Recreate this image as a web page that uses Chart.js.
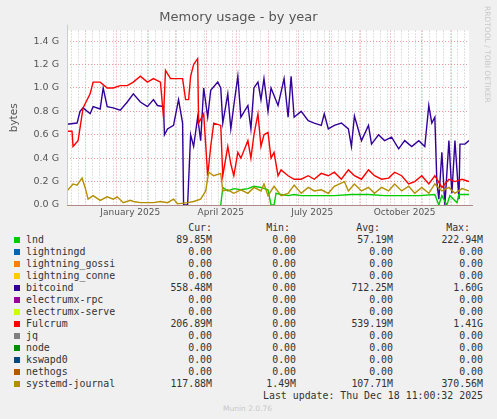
<!DOCTYPE html>
<html><head><meta charset="utf-8">
<script src="https://cdn.jsdelivr.net/npm/chart.js@4"></script>
<style>
body{margin:0;background:#f0f0f0;width:497px;height:419px;overflow:hidden;position:relative;font-family:"DejaVu Sans Mono",monospace;}
#wrap{position:absolute;left:0;top:0;width:497px;height:222px;}
.t{position:absolute;font-size:9.9px;color:#333;white-space:pre;line-height:12px;}
.r{text-align:right;}
.sw{position:absolute;width:6px;height:6px;}
#side{position:absolute;left:483px;top:6px;writing-mode:vertical-rl;font-family:"DejaVu Sans",sans-serif;font-size:7.5px;color:#c8c8c8;}
</style></head><body>
<div id="wrap"><canvas id="c"></canvas></div>
<div id="side">RRDTOOL / TOBI OETIKER</div>
<div id="legend"></div>
<script>
// x positions in days from start of the 400-day window; values in G bytes
const bitcoindX=[0,10,13,16,23,26,33,36,40,46,53,60,66,73,80,86,90,96,97,100,106,111,115,116,120,123,126,130,133,136,140,143,150,153,155,160,163,166,170,173,180,183,186,190,193,196,200,203,210,216,220,223,226,233,240,246,253,256,260,266,273,280,283,286,293,300,303,310,316,323,330,336,343,350,356,360,363,366,368,370,373,376,380,383,386,390,391,396,400];
const bitcoindY=[0.69,0.70,0.80,0.83,0.78,0.84,0.82,1.0,0.84,0.83,0.81,0.88,0.95,0.88,0.84,0.90,0.85,0.84,0.60,0.65,0.68,0.90,0.70,0.0,0.0,0.60,0.50,0.75,0.55,1.0,0.75,0.98,1.05,1.0,0.70,0.95,0.65,0.85,1.1,0.75,0.85,0.65,1.0,1.05,0.90,1.08,0.80,1.0,0.85,1.08,0.75,1.1,0.75,0.80,0.72,0.70,0.68,0.78,0.65,0.68,0.70,0.65,0.50,0.76,0.55,0.68,0.52,0.60,0.55,0.58,0.48,0.55,0.50,0.55,0.50,0.85,0.70,0.75,0.20,0.05,0.45,0.0,0.55,0.10,0.55,0.05,0.52,0.52,0.55];
const fulcrumX=[0,5,6,11,16,23,26,33,40,46,53,60,66,73,80,86,93,96,98,103,110,115,118,121,123,126,130,131,136,140,143,146,153,155,160,163,166,170,173,180,183,186,190,193,196,200,203,206,210,213,220,226,233,240,246,253,260,266,273,280,286,293,300,306,313,320,326,333,340,346,353,360,366,373,380,386,393,400];
const fulcrumY=[0.63,0.63,0.50,0.55,0.83,0.95,1.05,1.05,1.0,1.0,1.02,1.02,1.05,1.1,1.05,1.08,1.05,0.75,1.15,1.08,1.08,1.08,0.90,0.90,1.1,1.2,1.25,0.70,0.78,0.25,0.50,0.70,0.68,0.25,0.50,0.35,0.25,0.45,0.40,0.55,0.40,0.60,0.78,0.50,0.60,0.62,0.40,0.45,0.25,0.30,0.25,0.22,0.22,0.25,0.22,0.27,0.25,0.28,0.22,0.30,0.25,0.22,0.30,0.25,0.22,0.23,0.28,0.25,0.18,0.20,0.25,0.18,0.25,0.15,0.22,0.20,0.22,0.20];
const journalX=[0,6,10,15,18,21,26,33,40,46,50,56,63,66,73,80,86,93,100,106,110,120,126,133,138,141,146,153,155,160,166,173,180,186,193,196,200,206,213,220,226,233,240,246,253,260,266,276,280,286,293,300,306,313,320,326,333,340,346,353,360,366,373,380,386,393,400];
const journalY=[0.12,0.18,0.17,0.23,0.15,0.05,0.08,0.04,0.07,0.05,0.07,0.02,0.04,0.03,0.02,0.02,0.02,0.03,0.02,0.05,0.01,0.02,0.03,0.05,0.12,0.28,0.25,0.27,0.12,0.13,0.10,0.13,0.10,0.15,0.12,0.18,0.08,0.16,0.08,0.10,0.17,0.10,0.15,0.12,0.13,0.10,0.16,0.20,0.12,0.18,0.12,0.15,0.10,0.15,0.12,0.18,0.12,0.16,0.10,0.15,0.10,0.18,0.12,0.15,0.10,0.14,0.12];
const lndX=[153,155,160,166,173,180,186,193,200,203,206,208,213,220,226,233,250,266,283,300,316,333,350,366,370,373,378,381,388,390,400];
const lndY=[0.0,0.15,0.12,0.14,0.13,0.14,0.16,0.15,0.13,0.0,0.0,0.10,0.09,0.08,0.09,0.08,0.08,0.08,0.09,0.09,0.08,0.08,0.08,0.09,0.0,0.08,0.0,0.08,0.02,0.09,0.09];
const monthDays=[18,49,80,108,139,169,200,230,261,292,322,353,383];
const labelDays=[63,153,244,336];
const labelTexts=["January 2025","April 2025","July 2025","October 2025"];
const yTicks=[0,0.1,0.2,0.3,0.4,0.5,0.6,0.7,0.8,0.9,1.0,1.1,1.2,1.3,1.4];

const legendNames=["lnd","lightningd","lightning_gossi","lightning_conne","bitcoind","electrumx-rpc","electrumx-serve","Fulcrum","jq","node","kswapd0","nethogs","systemd-journal"];
const legendColors=["#00cc00","#0066b3","#ff8000","#ffcc00","#330099","#990099","#ccff00","#ff0000","#808080","#008f00","#00487d","#b35a00","#b38f00"];
const legendCur=["89.85M","0.00","0.00","0.00","558.48M","0.00","0.00","206.89M","0.00","0.00","0.00","0.00","117.88M"];
const legendMin=["0.00","0.00","0.00","0.00","0.00","0.00","0.00","0.00","0.00","0.00","0.00","0.00","1.49M"];
const legendAvg=["57.19M","0.00","0.00","0.00","712.25M","0.00","0.00","539.19M","0.00","0.00","0.00","0.00","107.71M"];
const legendMax=["222.94M","0.00","0.00","0.00","1.60G","0.00","0.00","1.41G","0.00","0.00","0.00","0.00","370.56M"];

function pts(xs,ys){return xs.map((x,i)=>({x:x,y:ys[i]}));}
const ds=(label,xs,ys,color)=>({label,data:pts(xs,ys),borderColor:color,borderWidth:1.4,pointRadius:0,tension:0,fill:false});

const tickInfo={};
const xTicks=[];
monthDays.forEach(d=>{tickInfo[d]='m';xTicks.push(d);});
for(let d=4;d<=400;d+=7){if(!(d in tickInfo)){tickInfo[d]='w';xTicks.push(d);}}
labelDays.forEach((d,i)=>{const k=d+0.001;tickInfo[k]='l'+i;xTicks.push(k);});
xTicks.sort((a,b)=>a-b);

new Chart(document.getElementById('c'),{
 type:'line',
 data:{datasets:[
  ds('systemd-journal',journalX,journalY,'#b38f00'),
  ds('lnd',lndX,lndY,'#00cc00'),
  ds('Fulcrum',fulcrumX,fulcrumY,'#ff0000'),
  ds('bitcoind',bitcoindX,bitcoindY,'#330099'),
 ]},
 options:{
  responsive:true,maintainAspectRatio:false,animation:false,
  layout:{padding:{top:1,right:28,bottom:0,left:8}},
  plugins:{legend:{display:false},tooltip:{enabled:false},
   title:{display:true,text:'Memory usage - by year',color:'#555',font:{family:'DejaVu Sans',size:13,weight:'normal'},padding:{top:9,bottom:5}}},
  scales:{
   x:{type:'linear',min:0,max:400,
     afterBuildTicks:s=>{s.ticks=xTicks.map(v=>({value:v}));},
     afterFit:s=>{s.height=17;},
     ticks:{autoSkip:false,maxRotation:0,color:'#555',font:{family:'DejaVu Sans',size:9},padding:2,
       callback:(v)=>{const t=tickInfo[v];return (t&&t[0]==='l')?labelTexts[+t.slice(1)]:'';}},
     grid:{drawTicks:false,tickLength:0,
       color:c=>{const t=c.tick&&tickInfo[c.tick.value];return t==='m'?'rgba(230,110,110,0.7)':t==='w'?'rgba(170,170,170,0.7)':'rgba(0,0,0,0)';},
       lineWidth:1},
     border:{display:false,dash:[1,2]}
   },
   y:{min:0,max:1.49,
     afterBuildTicks:s=>{s.ticks=yTicks.map(v=>({value:v}));},
     afterFit:s=>{s.width=59;},
     title:{display:true,text:'bytes',color:'#555',font:{family:'DejaVu Sans',size:10.5},padding:{top:0,bottom:4}},
     ticks:{color:'#555',font:{family:'DejaVu Sans',size:9.5},padding:8,
       callback:v=>{const k=Math.round(v*10);return k%2===0?(v.toFixed(1)+' G'):'';}},
     grid:{drawTicks:false,
       color:c=>{const k=Math.round(c.tick.value*10);return k===0?'rgba(0,0,0,0)':(k%2===0?'rgba(230,110,110,0.7)':'rgba(170,170,170,0.7)');},
       lineWidth:1},
     border:{display:false,dash:[1,2]}
   }
  }
 },
 plugins:[{id:'bg',beforeDraw:(ch)=>{const a=ch.chartArea,x=ch.ctx;x.save();x.fillStyle='#ffffff';x.fillRect(a.left,a.top,a.right-a.left,a.bottom-a.top);x.restore();},
  afterDraw:(ch)=>{const a=ch.chartArea,x=ch.ctx;x.save();x.strokeStyle='#c8c8f0';x.lineWidth=1;x.beginPath();x.moveTo(a.left+0.5,a.bottom);x.lineTo(a.left+0.5,a.top-6);x.stroke();
   x.strokeStyle='#b08a8a';x.beginPath();x.moveTo(a.left,a.bottom+0.5);x.lineTo(a.right+4,a.bottom+0.5);x.stroke();x.restore();}}]
});

const L=document.getElementById('legend');
let h='';
h+='<div class="t r" style="left:150px;top:222px;width:62px">Cur:</div>';
h+='<div class="t r" style="left:230px;top:222px;width:60px">Min:</div>';
h+='<div class="t r" style="left:320px;top:222px;width:60px">Avg:</div>';
h+='<div class="t r" style="left:410px;top:222px;width:60px">Max:</div>';
legendNames.forEach((n,i)=>{
 const y=234+i*12;
 h+=`<div class="sw" style="left:14px;top:${y+3}px;background:${legendColors[i]}"></div>`;
 h+=`<div class="t" style="left:26px;top:${y}px">${n}</div>`;
 h+=`<div class="t r" style="left:140px;top:${y}px;width:72px">${legendCur[i]}</div>`;
 h+=`<div class="t r" style="left:220px;top:${y}px;width:76px">${legendMin[i]}</div>`;
 h+=`<div class="t r" style="left:310px;top:${y}px;width:83px">${legendAvg[i]}</div>`;
 h+=`<div class="t r" style="left:400px;top:${y}px;width:83px">${legendMax[i]}</div>`;
});
h+='<div class="t r" style="left:200px;top:390px;width:283px">Last update: Thu Dec 18 11:00:32 2025</div>';
h+='<div class="t" style="left:223px;top:403px;font-family:DejaVu Sans;font-size:7.5px;color:#c8c8c8">Munin 2.0.76</div>';
L.innerHTML=h;
</script></body></html>
